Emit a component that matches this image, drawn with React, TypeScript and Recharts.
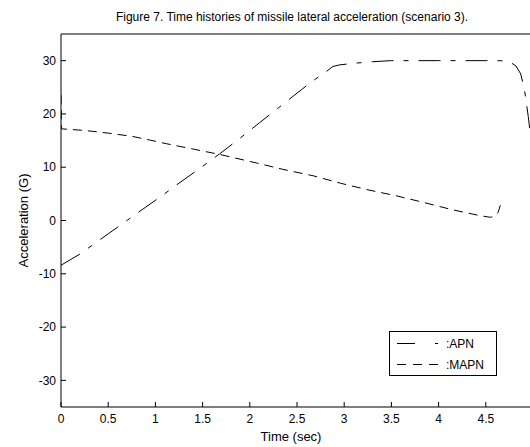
import React from 'react';
import { LineChart, Line, XAxis, YAxis, Legend, Label } from 'recharts';

const FONT = '"Liberation Sans", Arial, Helvetica, sans-serif';

// APN acceleration (G) vs time (sec)
const apnTime = [0, 0.2, 0.35, 0.5, 0.66, 0.8, 1.05, 1.25, 1.44, 1.68, 1.9, 2.1, 2.35, 2.55, 2.7, 2.8, 2.88, 2.95, 3.1, 3.3, 3.5, 4.0, 4.3, 4.5, 4.65, 4.75, 4.82, 4.87, 4.91, 4.95, 4.98, 5.0];
const apnAccel = [-8.4, -6.3, -4.4, -2.5, -0.5, 1.3, 4.4, 7.0, 9.4, 12.5, 15.5, 18.3, 21.8, 24.6, 26.6, 27.8, 28.9, 29.2, 29.5, 29.8, 30.0, 30.0, 30.0, 30.0, 30.0, 29.8, 29.0, 27.5, 24.5, 19.5, 15.0, 12.0];

// MAPN acceleration (G) vs time (sec)
const mapnTime = [0, 0.005, 0.25, 0.5, 0.75, 0.94, 1.12, 1.4, 1.68, 2.07, 2.35, 2.67, 2.96, 3.24, 3.56, 3.84, 4.15, 4.44, 4.55, 4.6, 4.63, 4.66];
const mapnAccel = [23.5, 17.2, 16.9, 16.4, 15.8, 15.1, 14.4, 13.4, 12.4, 10.8, 9.6, 8.4, 7.0, 5.8, 4.6, 3.4, 2.0, 0.9, 0.6, 0.9, 1.5, 3.2];

const xTicks = [0, 0.5, 1, 1.5, 2, 2.5, 3, 3.5, 4, 4.5];
const yTicks = [-30, -20, -10, 0, 10, 20, 30];

const seriesNames = ['APN', 'MAPN'];
const titleText = 'Figure 7. Time histories of missile lateral acceleration (scenario 3).';
const xLabelText = 'Time (sec)';
const yLabelText = 'Acceleration (G)';

const apnData = apnTime.map((t, i) => ({ t, a: apnAccel[i] }));
const mapnData = mapnTime.map((t, i) => ({ t, a: mapnAccel[i] }));

const APN_DASH = '22 10 5 10';
const MAPN_DASH = '9 6';

const LegendBox = () => (
  <svg width={108} height={45} style={{ display: 'block' }}>
    <rect x={0.5} y={0.5} width={107} height={44} fill="#fff" stroke="#000" strokeWidth={1} />
    <line x1={8} y1={12.5} x2={49} y2={12.5} stroke="#000" strokeWidth={1} strokeDasharray="18 20 3 100" />
    <text x={57} y={17} fontFamily={FONT} fontSize={12} fill="#000">:{seriesNames[0]}</text>
    <line x1={8} y1={33.5} x2={49} y2={33.5} stroke="#000" strokeWidth={1} strokeDasharray="9 7" />
    <text x={57} y={38} fontFamily={FONT} fontSize={12} fill="#000">:{seriesNames[1]}</text>
  </svg>
);

export default function App() {
  const tickStyle = { fontFamily: FONT, fontSize: 12, fill: '#000' };
  return (
    <div style={{ position: 'absolute', left: 8, top: 8, width: 522, height: 439, overflow: 'hidden', background: '#fff' }}>
      <LineChart width={540} height={439} margin={{ top: 0, right: 0, bottom: 0, left: 0 }}>
        <XAxis
          dataKey="t"
          type="number"
          domain={[0, 5]}
          ticks={xTicks}
          interval={0}
          allowDataOverflow
          height={40}
          tickSize={-5}
          tickMargin={12}
          tick={tickStyle}
          axisLine={{ stroke: '#000', strokeWidth: 1 }}
          tickLine={{ stroke: '#000', strokeWidth: 1 }}
        >
          <Label
            content={({ viewBox }: any) => (
              <text x={viewBox.x + viewBox.width / 2 - 6} y={viewBox.y + 34} textAnchor="middle" fontFamily={FONT} fontSize={13} fill="#000">
                {xLabelText}
              </text>
            )}
          />
        </XAxis>
        <XAxis
          xAxisId="top"
          orientation="top"
          type="number"
          domain={[0, 5]}
          ticks={xTicks}
          interval={0}
          allowDataOverflow
          height={26}
          tickSize={-5}
          tick={false}
          axisLine={{ stroke: '#000', strokeWidth: 1 }}
          tickLine={{ stroke: '#000', strokeWidth: 1 }}
        >
          <Label
            content={({ viewBox }: any) => (
              <text x={viewBox.x + viewBox.width / 2 - 5} y={13} textAnchor="middle" fontFamily={FONT} fontSize={12} fill="#000">
                {titleText}
              </text>
            )}
          />
        </XAxis>
        <YAxis
          type="number"
          domain={[-35, 35]}
          ticks={yTicks}
          interval={0}
          allowDataOverflow
          width={53}
          tickSize={-5}
          tickMargin={10}
          tick={tickStyle}
          axisLine={{ stroke: '#000', strokeWidth: 1 }}
          tickLine={{ stroke: '#000', strokeWidth: 1 }}
        >
          <Label
            content={({ viewBox }: any) => {
              const cx = 15;
              const cy = viewBox.y + viewBox.height / 2;
              return (
                <text x={cx} y={cy} transform={`rotate(-90 ${cx} ${cy})`} textAnchor="middle" dominantBaseline="central" fontFamily={FONT} fontSize={13} fill="#000">
                  {yLabelText}
                </text>
              );
            }}
          />
        </YAxis>
        <YAxis
          yAxisId="right"
          orientation="right"
          type="number"
          domain={[-35, 35]}
          ticks={yTicks}
          interval={0}
          allowDataOverflow
          width={15}
          tickSize={-5}
          tick={false}
          axisLine={{ stroke: '#000', strokeWidth: 1 }}
          tickLine={{ stroke: '#000', strokeWidth: 1 }}
        />
        <Line
          data={apnData}
          dataKey="a"
          name={seriesNames[0]}
          type="linear"
          stroke="#000"
          strokeWidth={1}
          strokeDasharray={APN_DASH}
          dot={false}
          activeDot={false}
          isAnimationActive={false}
        />
        <Line
          data={mapnData}
          dataKey="a"
          name={seriesNames[1]}
          type="linear"
          stroke="#000"
          strokeWidth={1}
          strokeDasharray={MAPN_DASH}
          dot={false}
          activeDot={false}
          isAnimationActive={false}
        />
        <Legend
          layout="horizontal"
          verticalAlign="middle"
          align="center"
          content={() => <LegendBox />}
          wrapperStyle={{ position: 'absolute', left: 381, top: 323, width: 108, height: 45 }}
        />
      </LineChart>
    </div>
  );
}
